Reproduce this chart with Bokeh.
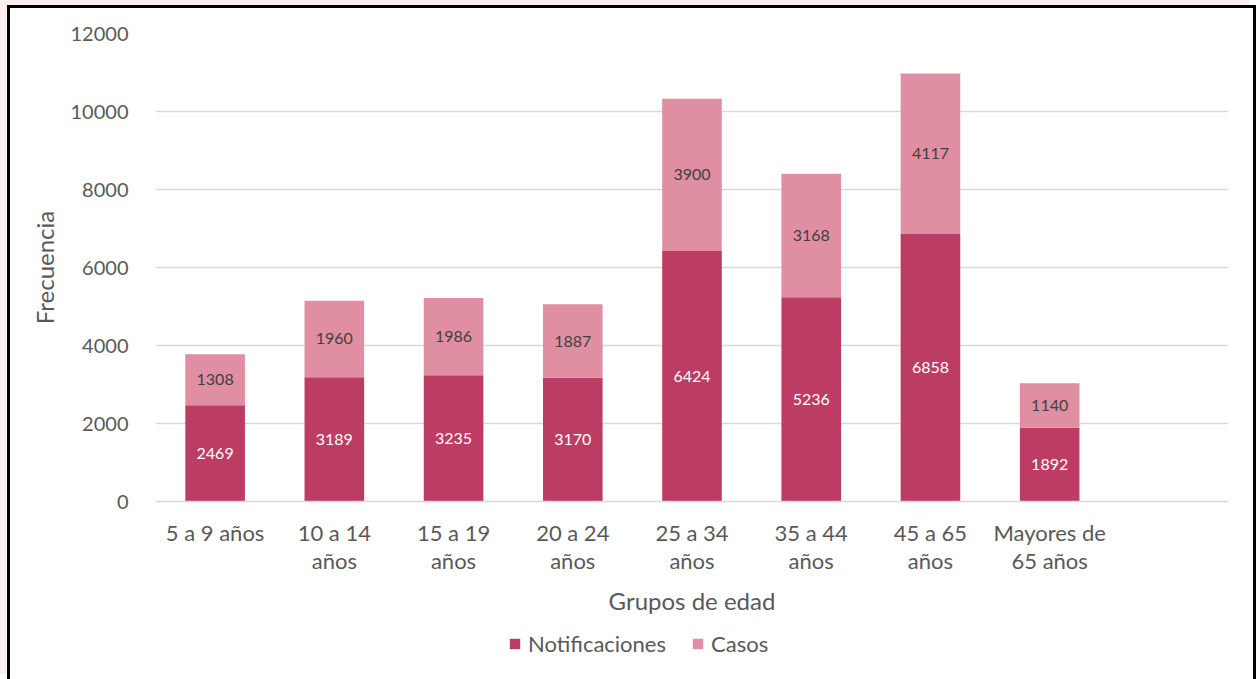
from bokeh.plotting import figure
from bokeh.layouts import column
from bokeh.models import FactorRange, Range1d, FixedTicker, Legend, LegendItem
from bokeh.core.properties import value
from bokeh.embed import file_html
from bokeh.resources import INLINE

categories = ["5 a 9 años", "10 a 14\naños", "15 a 19\naños", "20 a 24\naños",
              "25 a 34\naños", "35 a 44\naños", "45 a 65\naños", "Mayores de\n65 años"]
notificaciones = [2469, 3189, 3235, 3170, 6424, 5236, 6858, 1892]
casos = [1308, 1960, 1986, 1887, 3900, 3168, 4117, 1140]
series_names = ["Notificaciones", "Casos"]
y_ticks = [0, 2000, 4000, 6000, 8000, 10000, 12000]

dark = "#BC3C63"
light = "#E08FA2"
txt = "#595959"
font = "Lato"

W = 1243
H_MAIN = 621
H_LEG = 50

factors = categories + [" "]
p = figure(width=W, height=H_MAIN, x_range=FactorRange(*factors, range_padding=0),
           y_range=Range1d(0, 12000), output_backend="svg", toolbar_location=None,
           min_border_left=145, min_border_right=25, min_border_top=25, min_border_bottom=128)
p.outline_line_color = None

data = {"cat": categories, "Notificaciones": notificaciones, "Casos": casos}
r = p.vbar_stack(series_names, x="cat", width=0.5, color=[dark, light], source=data,
                 line_color=None)

mid_n = [v / 2 for v in notificaciones]
mid_c = [n + c / 2 for n, c in zip(notificaciones, casos)]
p.text(x=categories, y=mid_n, text=[str(v) for v in notificaciones], text_align="center",
       text_baseline="middle", text_font=value(font), text_font_size="16px", text_color="white")
p.text(x=categories, y=mid_c, text=[str(v) for v in casos], text_align="center",
       text_baseline="middle", text_font=value(font), text_font_size="16px", text_color="#404040")

p.xgrid.grid_line_color = None
p.ygrid.grid_line_color = "#D9D9D9"
p.ygrid.grid_line_width = 1.5
p.yaxis.ticker = FixedTicker(ticks=y_ticks)

for ax in (p.xaxis[0], p.yaxis[0]):
    ax.major_tick_line_color = None
    ax.minor_tick_line_color = None
    ax.major_tick_out = 0
    ax.major_tick_in = 0
    ax.minor_tick_out = 0
    ax.major_label_text_font = font
    ax.major_label_text_color = txt
    ax.axis_label_text_font = font
    ax.axis_label_text_font_size = "24px"
    ax.axis_label_text_font_style = "normal"
    ax.axis_label_text_color = txt

p.yaxis.axis_line_color = None
p.yaxis.axis_label = "Frecuencia"
p.yaxis.major_label_text_font_size = "20px"
p.yaxis.major_label_standoff = 27
p.yaxis.axis_label_standoff = 9

p.xaxis.axis_line_color = "#D9D9D9"
p.xaxis.axis_line_width = 1.5
p.xaxis.axis_label = "Grupos de edad"
p.xaxis.major_label_text_font_size = "22px"
p.xaxis.major_label_standoff = 17
p.xaxis.major_label_text_line_height = 1.06
p.xaxis.axis_label_standoff = 9

# legend strip below the chart (same series, hidden renderers only feed the legend)
q = figure(width=W, height=H_LEG, x_range=FactorRange(*factors, range_padding=0),
           y_range=Range1d(-2, -1), output_backend="svg", toolbar_location=None,
           x_axis_location=None, y_axis_location=None,
           min_border_left=0, min_border_right=0, min_border_top=0, min_border_bottom=0)
q.grid.visible = False
q.outline_line_color = None
rq = q.vbar_stack(series_names, x="cat", width=0.5, color=[dark, light], source=data,
                  line_color=None)
for rr in rq:
    rr.visible = False
legend = Legend(items=[LegendItem(label=series_names[0], renderers=[rq[0]]),
                       LegendItem(label=series_names[1], renderers=[rq[1]])],
                orientation="horizontal", location=(353, 22), click_policy="none",
                label_text_font=font, label_text_font_size="22px", label_text_color=txt,
                glyph_width=13, glyph_height=13, label_standoff=7, spacing=25,
                border_line_color=None, background_fill_color=None, margin=0, padding=0)
q.add_layout(legend, "center")

layout = column(p, q, spacing=0)
layout.styles = {"border": "3px solid black", "border-bottom": "none",
                 "margin-left": "7px", "margin-top": "5px",
                 "box-shadow": "-7px -5px 0 0 #FAEEEE"}

open("out.html", "w").write(file_html(layout, INLINE))
